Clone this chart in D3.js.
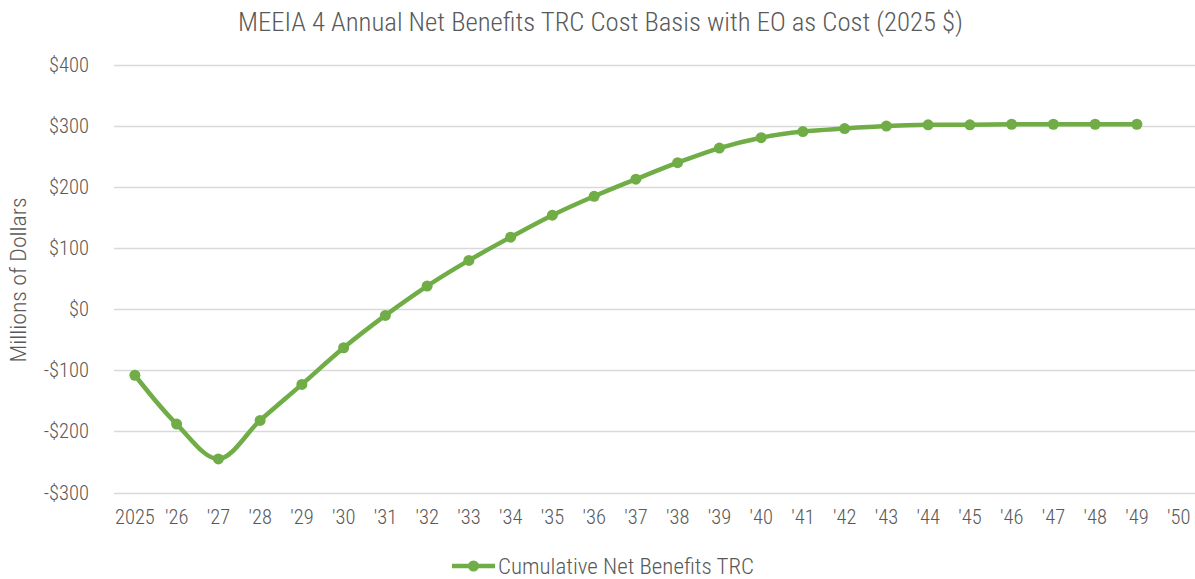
<!DOCTYPE html>
<html>
<head>
<meta charset="utf-8">
<script src="https://cdn.jsdelivr.net/npm/d3@7/dist/d3.min.js"></script>
<style>
  html, body { margin: 0; padding: 0; background: #ffffff; }
  svg { display: block; }
  text { font-family: "Liberation Sans Narrow", "Roboto Condensed", "DejaVu Sans Condensed", "Liberation Sans", sans-serif; fill: #595959; font-weight: 300; }
</style>
</head>
<body>
<svg id="chart" width="1195" height="579"></svg>
<script>
const title = "MEEIA 4 Annual Net Benefits TRC Cost Basis with EO as Cost (2025 $)";
const yAxisTitle = "Millions of Dollars";
const seriesName = "Cumulative Net Benefits TRC";
const categories = ["2025","'26","'27","'28","'29","'30","'31","'32","'33","'34","'35","'36","'37","'38","'39","'40","'41","'42","'43","'44","'45","'46","'47","'48","'49","'50"];
const values = [-108,-188,-245,-182,-123,-63,-10,38,80,118,154,185,213,240,264,281,291,296,300,302,302,303,303,303,303,null];
const yTicks = [-300,-200,-100,0,100,200,300,400];
const yTickLabels = ["-$300","-$200","-$100","$0","$100","$200","$300","$400"];

const green = "#70AD47";
const svg = d3.select("#chart");

const x = d3.scaleBand().domain(categories).range([114, 1199.5]);
const y = d3.scaleLinear().domain([-300, 400]).range([492.5, 65]);

// gridlines
svg.append("g").selectAll("line").data(yTicks).join("line")
  .attr("x1", 114).attr("x2", 1199.5)
  .attr("y1", d => Math.round(y(d)) + 0.5).attr("y2", d => Math.round(y(d)) + 0.5)
  .attr("stroke", "#d9d9d9").attr("stroke-width", 1.3);

// y axis labels
const yAxis = d3.axisLeft(y).tickValues(yTicks).tickSize(0).tickPadding(0)
  .tickFormat((d, i) => yTickLabels[i]);
const gy = svg.append("g").attr("transform", "translate(89,0)").call(yAxis);
gy.select(".domain").remove();
gy.selectAll("text").attr("font-size", 20.5).attr("fill", "#595959")
  .style("font-family", null);

// x axis labels
const xAxis = d3.axisBottom(x).tickSize(0).tickPadding(0);
const gx = svg.append("g").attr("transform", "translate(0,509)").call(xAxis);
gx.select(".domain").remove();
gx.selectAll("text").attr("font-size", 20.5).attr("fill", "#595959")
  .style("font-family", null);

// title
svg.append("text").attr("x", 600.5).attr("y", 31).attr("text-anchor", "middle")
  .attr("font-size", 25).attr("textLength", 725).attr("lengthAdjust", "spacingAndGlyphs")
  .text(title);

// y axis title
svg.append("text").attr("transform", "translate(26,280) rotate(-90)")
  .attr("text-anchor", "middle").attr("font-size", 22)
  .attr("textLength", 165).attr("lengthAdjust", "spacingAndGlyphs").text(yAxisTitle);

// line
const pts = categories.map((c, i) => ({c, v: values[i]})).filter(d => d.v !== null);
const line = d3.line()
  .x(d => x(d.c) + x.bandwidth() / 2)
  .y(d => y(d.v))
  .curve(d3.curveCatmullRom.alpha(0.5));
svg.append("path").datum(pts).attr("d", line)
  .attr("fill", "none").attr("stroke", green).attr("stroke-width", 4.5)
  .attr("stroke-linejoin", "round").attr("stroke-linecap", "round");

svg.append("g").selectAll("circle").data(pts).join("circle")
  .attr("cx", d => x(d.c) + x.bandwidth() / 2)
  .attr("cy", d => y(d.v))
  .attr("r", 5.5).attr("fill", green);

// legend
const lg = svg.append("g");
lg.append("line").attr("x1", 452).attr("x2", 495).attr("y1", 566).attr("y2", 566)
  .attr("stroke", green).attr("stroke-width", 4.5);
lg.append("circle").attr("cx", 473.5).attr("cy", 566).attr("r", 5.5).attr("fill", green);
lg.append("text").attr("x", 498).attr("y", 574).attr("font-size", 22)
  .attr("textLength", 256).attr("lengthAdjust", "spacingAndGlyphs").text(seriesName);
</script>
</body>
</html>
